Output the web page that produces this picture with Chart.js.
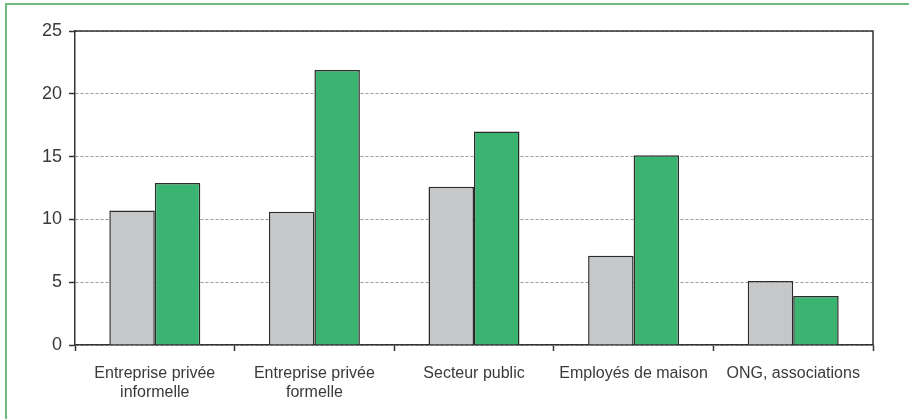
<!DOCTYPE html>
<html>
<head>
<meta charset="utf-8">
<script src="https://cdn.jsdelivr.net/npm/chart.js@4/dist/chart.umd.min.js"></script>
<style>
  html, body { margin: 0; padding: 0; background: #fff; }
  #wrap { position: relative; width: 909px; height: 419px; }
</style>
</head>
<body>
<div id="wrap"><canvas id="chart" width="909" height="419"></canvas></div>
<script>
// Categories and the two series
const categories = [
  ['Entreprise privée', 'informelle'],
  ['Entreprise privée', 'formelle'],
  'Secteur public',
  'Employés de maison',
  'ONG, associations'
];
const greySeries = [10.7, 10.6, 12.6, 7.1, 5.1];
const greenSeries = [12.9, 21.9, 17.0, 15.1, 3.9];
const yTicks = [0, 5, 10, 15, 20, 25];

const FONT = '"Liberation Sans", Arial, sans-serif';

// Frame: green rule on top/left of the figure, plus closing box lines of the plot
const framePlugin = {
  id: 'frame',
  beforeDraw(chart) {
    const ctx = chart.ctx;
    ctx.save();
    ctx.strokeStyle = '#6dbb7d';
    ctx.lineWidth = 2;
    ctx.beginPath();
    ctx.moveTo(6, 419);
    ctx.lineTo(6, 4);
    ctx.lineTo(909, 4);
    ctx.stroke();
    ctx.restore();
  },
  afterDraw(chart) {
    const { left, right, top, bottom } = chart.chartArea;
    const ctx = chart.ctx;
    ctx.save();
    ctx.strokeStyle = '#333';
    ctx.lineWidth = 1.5;
    ctx.beginPath();
    ctx.moveTo(left, top);
    ctx.lineTo(right, top);
    ctx.lineTo(right, bottom);
    ctx.stroke();
    ctx.restore();
  }
};

new Chart(document.getElementById('chart'), {
  type: 'bar',
  data: {
    labels: categories,
    datasets: [
      {
        data: greySeries,
        backgroundColor: '#c6c7c9',
        borderColor: '#2b2b2b',
        borderWidth: 1.5,
        borderSkipped: 'bottom'
      },
      {
        data: greenSeries,
        backgroundColor: '#3bb371',
        borderColor: '#2b2b2b',
        borderWidth: 1.5,
        borderSkipped: 'bottom'
      }
    ]
  },
  options: {
    responsive: false,
    animation: false,
    events: [],
    layout: { padding: { top: 31, right: 36, left: 0, bottom: 0 } },
    datasets: {
      bar: { categoryPercentage: 0.57, barPercentage: 1.0 }
    },
    plugins: {
      legend: { display: false },
      tooltip: { enabled: false }
    },
    scales: {
      x: {
        afterFit(scale) { scale.height = 74; },
        grid: {
          display: true,
          offset: true,
          drawOnChartArea: false,
          drawTicks: true,
          tickLength: 6,
          tickColor: '#333',
          tickWidth: 1.5
        },
        border: { display: true, color: '#333', width: 1.5 },
        ticks: {
          color: '#3a3a3a',
          padding: 13,
          maxRotation: 0,
          autoSkip: false,
          font: { family: FONT, size: 16, lineHeight: 1.2 }
        }
      },
      y: {
        min: 0,
        max: 25,
        afterFit(scale) { scale.width = 75; },
        afterBuildTicks(scale) { scale.ticks = yTicks.map(v => ({ value: v })); },
        grid: {
          color: '#9a9a9a',
          lineWidth: 1,
          drawTicks: true,
          tickLength: 6,
          tickColor: '#333',
          tickWidth: 1.5
        },
        border: { display: true, color: '#333', width: 1.5, dash: [3, 2] },
        ticks: {
          color: '#3a3a3a',
          padding: 7,
          font: { family: FONT, size: 18 }
        }
      }
    }
  },
  plugins: [framePlugin]
});
</script>
</body>
</html>
